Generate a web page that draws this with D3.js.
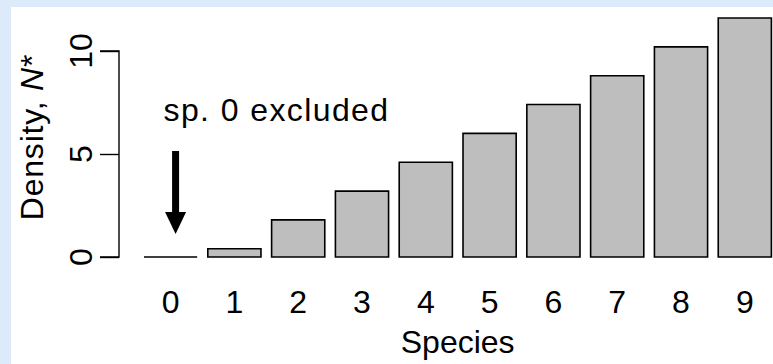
<!DOCTYPE html>
<html>
<head>
<meta charset="utf-8">
<script src="https://cdn.jsdelivr.net/npm/d3@7.9.0/dist/d3.min.js"></script>
<style>
  html, body { margin: 0; padding: 0; background: #dceafa; }
  svg { display: block; font-family: "Liberation Sans", Arial, sans-serif; }
</style>
</head>
<body>
<div id="chart"></div>
<script>
const species = ["0", "1", "2", "3", "4", "5", "6", "7", "8", "9"];
const density = [0, 0.4, 1.8, 3.2, 4.6, 6.0, 7.4, 8.8, 10.2, 11.6];
const yTicks = [0, 5, 10];

const width = 773;
const height = 364;

const svg = d3.select("#chart")
  .append("svg")
  .attr("width", width)
  .attr("height", height);

// white panel on the blue page
svg.append("rect")
  .attr("x", 11).attr("y", 7)
  .attr("width", width - 11).attr("height", height - 7)
  .attr("fill", "white");

const x = d3.scaleBand()
  .domain(species)
  .range([144, 771.4])
  .paddingInner(0.2 / 1.2)
  .paddingOuter(0);

const y = d3.scaleLinear()
  .domain([0, 10])
  .range([257, 51]);

// bars as closed paths so a zero bar still shows as a flat line
svg.append("g")
  .selectAll("path")
  .data(species)
  .join("path")
  .attr("d", (d, i) => {
    const x0 = x(d), x1 = x(d) + x.bandwidth();
    return `M${x0},${y(0)}V${y(density[i])}H${x1}V${y(0)}Z`;
  })
  .attr("fill", "#bebebe")
  .attr("stroke", "black")
  .attr("stroke-width", 1.6);

// y axis (R style: line only spans ticks, labels rotated)
const yAxis = svg.append("g")
  .attr("transform", "translate(119,0)")
  .call(d3.axisLeft(y).tickValues(yTicks).tickSize(19).tickPadding(0).tickFormat(""));
yAxis.select(".domain")
  .attr("d", `M-19,${y(10)}H0V${y(0)}H-19`)
  .attr("stroke-width", 1.4);
yAxis.selectAll(".tick line").attr("stroke-width", 1.4);

svg.append("g")
  .selectAll("text")
  .data(yTicks)
  .join("text")
  .attr("transform", d => `translate(92,${y(d)}) rotate(-90)`)
  .attr("text-anchor", "middle")
  .attr("font-size", 32)
  .text(d => d);

// x tick labels (no axis line)
svg.append("g")
  .selectAll("text")
  .data(species)
  .join("text")
  .attr("x", d => x(d) + x.bandwidth() / 2)
  .attr("y", 313)
  .attr("text-anchor", "middle")
  .attr("font-size", 32)
  .text(d => d);

// axis titles
svg.append("text")
  .attr("x", (x.range()[0] + x.range()[1]) / 2)
  .attr("y", 353)
  .attr("text-anchor", "middle")
  .attr("font-size", 32)
  .text("Species");

const ylab = svg.append("text")
  .attr("transform", "translate(43,137) rotate(-90)")
  .attr("text-anchor", "middle")
  .attr("font-size", 32)
  .attr("letter-spacing", 0.8);
ylab.append("tspan").text("Density, ");
ylab.append("tspan").attr("font-style", "italic").text("N");
ylab.append("tspan").text("*");

// annotation
svg.append("text")
  .attr("x", 276.5)
  .attr("y", 121)
  .attr("text-anchor", "middle")
  .attr("font-size", 32)
  .attr("letter-spacing", 1.4)
  .text("sp. 0 excluded");

const ax = x("0") + x.bandwidth() / 2 + 5;
svg.append("line")
  .attr("x1", ax).attr("x2", ax)
  .attr("y1", 151).attr("y2", 214)
  .attr("stroke", "black")
  .attr("stroke-width", 7);
svg.append("path")
  .attr("d", `M${ax - 10.5},212L${ax + 10.5},212L${ax},234Z`)
  .attr("fill", "black");
</script>
</body>
</html>
